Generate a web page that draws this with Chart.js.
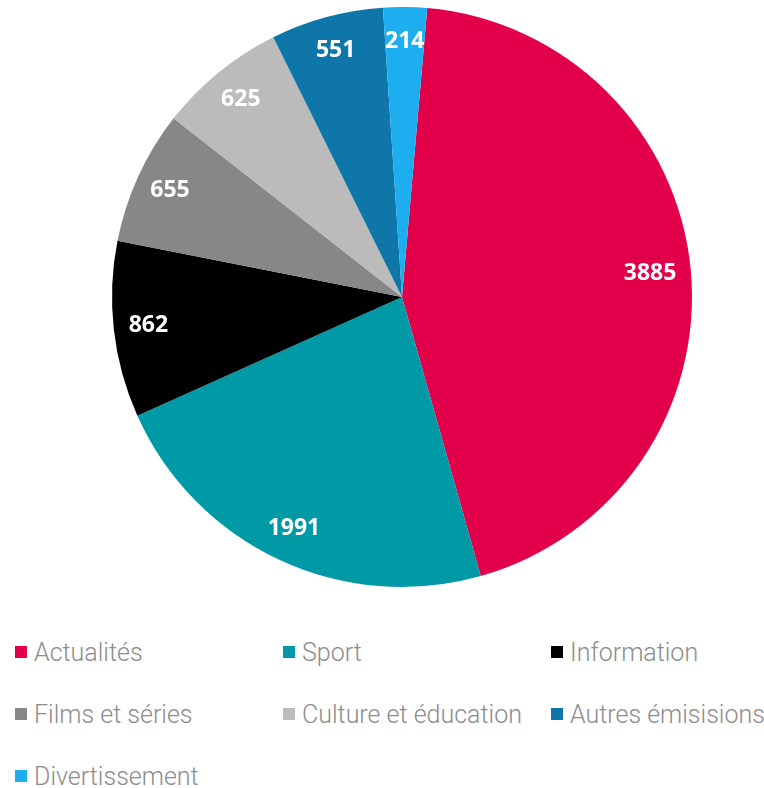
<!DOCTYPE html>
<html>
<head>
<meta charset="utf-8">
<script src="https://cdn.jsdelivr.net/npm/chart.js@4.4.0/dist/chart.umd.min.js"></script>
<style>
  html, body { margin: 0; padding: 0; background: #fff; }
  #wrap { position: relative; width: 764px; height: 788px; }
  #chartBox { position: absolute; left: 0; top: 0; width: 764px; height: 600px; }
  #legend { position: absolute; left: 15px; top: 622px; display: grid;
    grid-template-columns: 268px 268px 230px; grid-auto-rows: 62px; }
  .item { display: flex; align-items: center; font-family: Roboto, "Open Sans", sans-serif;
    font-weight: 300; font-size: 25px; color: #8c8c8c; white-space: nowrap; margin-top: -2px; }
  .sw { width: 12px; height: 12px; margin-right: 7px; flex: none; margin-top: 0px; }
</style>
</head>
<body>
<div id="wrap">
  <div id="chartBox"><canvas id="c"></canvas></div>
  <div id="legend"></div>
</div>
<script>
const categories = ["Actualités", "Sport", "Information", "Films et séries", "Culture et éducation", "Autres émisisions", "Divertissement"];
const values = [3885, 1991, 862, 655, 625, 551, 214];
const colors = ["#E2004A", "#009AA6", "#000000", "#878787", "#BBBBBB", "#0E76A8", "#1DAEEF"];

const labelPlugin = {
  id: 'sliceLabels',
  afterDatasetsDraw(chart) {
    const ctx = chart.ctx;
    const meta = chart.getDatasetMeta(0);
    ctx.save();
    ctx.fillStyle = '#ffffff';
    ctx.font = '700 23px "Open Sans", sans-serif';
    ctx.textAlign = 'center';
    ctx.textBaseline = 'middle';
    meta.data.forEach((arc, i) => {
      const p = arc.getProps(['x', 'y', 'startAngle', 'endAngle', 'outerRadius'], true);
      const mid = (p.startAngle + p.endAngle) / 2;
      const txt = String(chart.data.datasets[0].data[i]);
      const hw = ctx.measureText(txt).width / 2, hh = 8.5;
      const limit = p.outerRadius - 13;
      let r = p.outerRadius * 0.88;
      const far = (d) => {
        const cx = Math.cos(mid) * d, cy = Math.sin(mid) * d;
        let m = 0;
        [[-hw, -hh], [hw, -hh], [-hw, hh], [hw, hh]].forEach(([a, b]) => {
          m = Math.max(m, Math.hypot(cx + a, cy + b));
        });
        return m;
      };
      while (far(r) > limit && r > 0) r -= 1;
      ctx.fillText(txt, p.x + Math.cos(mid) * r, p.y + Math.sin(mid) * r);
    });
    ctx.restore();
  }
};

new Chart(document.getElementById('c'), {
  type: 'pie',
  data: {
    labels: categories,
    datasets: [{ data: values, backgroundColor: colors, borderWidth: 0, hoverOffset: 0, offset: 0 }]
  },
  options: {
    responsive: true,
    maintainAspectRatio: false,
    animation: false,
    rotation: 5,
    layout: { padding: { left: 40, top: 7, bottom: 13, right: 0 } },
    plugins: { legend: { display: false }, tooltip: { enabled: false } }
  },
  plugins: [labelPlugin]
});

const legend = document.getElementById('legend');
categories.forEach((c, i) => {
  const d = document.createElement('div');
  d.className = 'item';
  const s = document.createElement('span');
  s.className = 'sw';
  s.style.background = colors[i];
  d.appendChild(s);
  d.appendChild(document.createTextNode(c));
  legend.appendChild(d);
});
</script>
</body>
</html>
